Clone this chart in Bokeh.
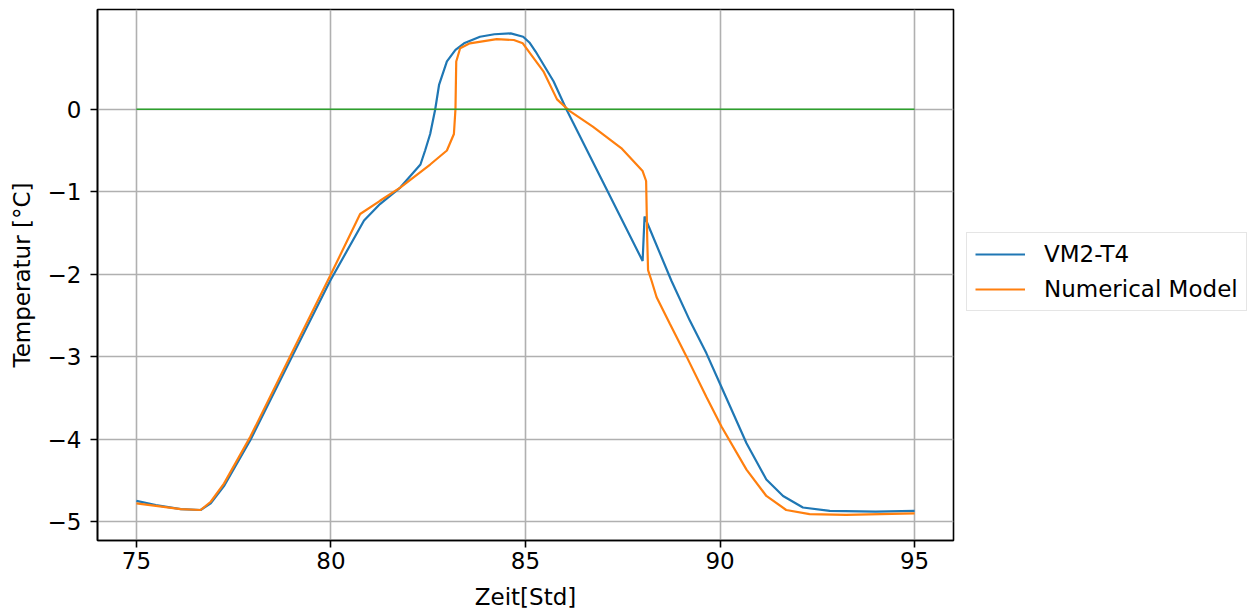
from bokeh.plotting import figure
from bokeh.layouts import row
from bokeh.models import Range1d, FixedTicker, Legend, LegendItem
from bokeh.embed import file_html
from bokeh.resources import INLINE

vm_x = [75.0, 75.5, 76.14, 76.65, 76.91, 77.25, 77.93, 79.0, 79.98, 80.85, 81.26, 81.78,
        82.3, 82.42, 82.55, 82.68, 82.78, 82.98, 83.2, 83.42, 83.83, 84.2, 84.62, 84.94,
        85.1, 85.26, 85.72, 86.05, 87.0, 88.01, 88.06, 88.75, 89.22, 89.65, 89.99, 90.68,
        91.19, 91.62, 92.13, 92.82, 94.0, 95.0]
vm_y = [-4.75, -4.80, -4.85, -4.86, -4.78, -4.57, -4.01, -3.0, -2.08, -1.35, -1.15, -0.95,
        -0.67, -0.50, -0.30, 0.0, 0.30, 0.58, 0.72, 0.80, 0.88, 0.91, 0.92, 0.88,
        0.81, 0.70, 0.34, 0.0, -0.89, -1.84, -1.30, -2.08, -2.56, -2.96, -3.32, -4.05,
        -4.49, -4.69, -4.83, -4.87, -4.88, -4.87]

# Numerical model
nm_x = [75.0, 75.5, 76.14, 76.65, 76.91, 77.25, 77.93, 79.0, 79.98, 80.75, 81.26, 81.78,
        82.55, 82.98, 83.16, 83.2, 83.22, 83.32, 83.57, 84.26, 84.7, 84.93, 85.46, 85.81,
        86.13, 86.73, 87.46, 88.01, 88.1, 88.13, 88.15, 88.24, 88.37, 88.71, 89.14, 89.65,
        90.04, 90.68, 91.19, 91.7, 92.3, 93.24, 95.0]
nm_y = [-4.78, -4.81, -4.85, -4.86, -4.76, -4.54, -3.97, -2.95, -2.02, -1.27, -1.11, -0.95,
        -0.67, -0.50, -0.30, 0.0, 0.58, 0.74, 0.80, 0.85, 0.84, 0.80, 0.46, 0.12,
        -0.02, -0.21, -0.47, -0.75, -0.87, -1.6, -1.95, -2.08, -2.28, -2.60, -3.0, -3.49,
        -3.85, -4.37, -4.69, -4.86, -4.91, -4.92, -4.90]

zero_x = [75, 95]
zero_y = [0, 0]

x_ticks = [75, 80, 85, 90, 95]
y_ticks = [0, -1, -2, -3, -4, -5]
y_tick_labels = {t: ("\u2212" + str(-t) if t < 0 else str(t)) for t in y_ticks}
series_labels = ["VM2-T4", "Numerical Model"]
series_colors = ["#1f77b4", "#ff7f0e"]

FONT = "DejaVu Sans"
FS = "23px"

p = figure(width=960, height=612, output_backend="svg", toolbar_location=None,
           x_range=Range1d(74, 96), y_range=Range1d(-5.23, 1.21),
           min_border_left=97, min_border_right=7, min_border_top=9, min_border_bottom=71)

p.outline_line_color = "black"
p.outline_line_width = 1.6
p.background_fill_color = "white"
p.border_fill_color = "white"

for ax in (p.xaxis[0], p.yaxis[0]):
    ax.axis_line_color = "black"
    ax.axis_line_width = 1.6
    ax.major_tick_line_color = "black"
    ax.major_tick_line_width = 1.6
    ax.major_tick_out = 7
    ax.major_tick_in = 0
    ax.minor_tick_line_color = None
    ax.major_label_text_font = FONT
    ax.major_label_text_font_size = FS
    ax.major_label_text_color = "black"
    ax.axis_label_text_font = FONT
    ax.axis_label_text_font_size = FS
    ax.axis_label_text_font_style = "normal"
    ax.axis_label_text_color = "black"

p.xaxis.ticker = FixedTicker(ticks=x_ticks)
p.yaxis.ticker = FixedTicker(ticks=y_ticks)
p.yaxis.major_label_overrides = y_tick_labels
p.xaxis.axis_label = "Zeit[Std]"
p.yaxis.axis_label = "Temperatur [°C]"
p.xaxis.major_label_standoff = 4
p.yaxis.major_label_standoff = 9
p.xaxis.axis_label_standoff = 12
p.yaxis.axis_label_standoff = 10

p.xgrid.grid_line_color = "#b0b0b0"
p.ygrid.grid_line_color = "#b0b0b0"
p.xgrid.grid_line_width = 1.6
p.ygrid.grid_line_width = 1.6

p.line(vm_x, vm_y, line_color=series_colors[0], line_width=2.2)
p.line(nm_x, nm_y, line_color=series_colors[1], line_width=2.2)
p.line(zero_x, zero_y, line_color="#2ca02c", line_width=1.6)

# legend panel to the right of the plot (its own view range excludes the data,
# so only the legend shows)
lp = figure(width=299, height=612, output_backend="svg", toolbar_location=None,
            x_range=Range1d(0, 1), y_range=Range1d(0, 1),
            x_axis_type=None, y_axis_type=None,
            min_border_left=0, min_border_right=0, min_border_top=9, min_border_bottom=71)
lp.outline_line_color = None
lp.grid.visible = False
lp.background_fill_color = "white"
lp.border_fill_color = "white"
k1 = lp.line(vm_x, vm_y, line_color=series_colors[0], line_width=2.2)
k2 = lp.line(nm_x, nm_y, line_color=series_colors[1], line_width=2.2)

legend = Legend(items=[LegendItem(label=series_labels[0], renderers=[k1]),
                       LegendItem(label=series_labels[1], renderers=[k2])],
                location=(6, 229))
legend.label_text_font = FONT
legend.label_text_font_size = FS
legend.label_text_color = "black"
legend.glyph_width = 50
legend.label_standoff = 19
legend.padding = 8
legend.spacing = 9
legend.margin = 0
legend.border_line_color = "#cccccc"
legend.border_line_width = 1.5
legend.background_fill_color = "white"
legend.background_fill_alpha = 1.0
lp.add_layout(legend, "center")

layout = row(p, lp)
open("out.html", "w").write(file_html(layout, INLINE))
